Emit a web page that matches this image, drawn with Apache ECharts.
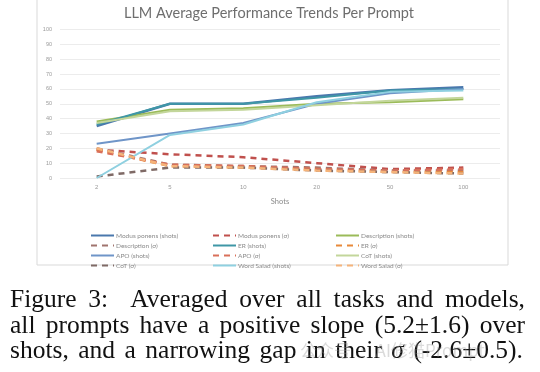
<!DOCTYPE html>
<html><head><meta charset="utf-8">
<script src="https://cdn.jsdelivr.net/npm/echarts@6/dist/echarts.min.js"></script>
<style>
html,body{margin:0;padding:0;background:#fff;width:540px;height:372px;overflow:hidden}
#chart{position:absolute;left:0;top:0;width:540px;height:372px}
.cap{position:absolute;left:10px;width:515px;font-family:"Liberation Serif","DejaVu Serif",serif;font-size:25.5px;line-height:24px;color:#111;text-align:justify;text-align-last:justify;white-space:normal}
#wm{position:absolute;left:300px;top:337px;font-family:"Noto Sans CJK SC",sans-serif;font-size:17px;color:rgba(150,150,150,0.35)}
</style></head>
<body>
<div id="chart"></div>
<div class="cap" style="top:287px">Figure 3:&nbsp; Averaged over all tasks and models,</div>
<div class="cap" style="top:313px">all prompts have a positive slope (5.2±1.6) over</div>
<div class="cap" style="top:338px;width:513px">shots, and a narrowing gap in their <i>σ</i> (-2.6±0.5).</div>
<div id="wm">公众号 · AI修猫Prompt</div>
<script>
var shots = ['2','5','10','20','50','100'];
var yTicks = [0,10,20,30,40,50,60,70,80,90,100];

var modusShots = [35, 50, 50, 55, 59, 61];
var modusSigma = [19, 16, 14, 10, 6, 7];
var descShots  = [38, 46, 47, 50, 51, 53];
var descSigma  = [20, 9, 8, 7, 5, 5];
var erShots    = [36, 50, 50, 54, 59, 60];
var erSigma    = [19, 8, 7, 6, 4, 4];
var apoShots   = [23, 30, 37, 50, 57, 60];
var apoSigma   = [18, 9, 8, 6, 5, 6];
var cotShots   = [37, 45, 46, 49, 52, 54];
var cotSigma   = [1, 7, 7, 5, 4, 3];
var wsShots    = [0, 29, 36, 51, 58, 59];
var wsSigma    = [20, 8, 7, 5, 4, 3];

function solid(name, data, color, w){
  return {name:name, type:'line', data:data, symbol:'none', smooth:false,
    lineStyle:{color:color, width:w||2}, itemStyle:{color:color}};
}
function dashed(name, data, color){
  return {name:name, type:'line', data:data, symbol:'none',
    lineStyle:{color:color, width:2.5, type:[6,5]}, itemStyle:{color:color}};
}
var series = [
  solid('Modus ponens (shots)', modusShots, '#4a78ad', 2.6),
  dashed('Modus ponens (σ)', modusSigma, '#c0504d'),
  solid('Description (shots)', descShots, '#9bbb59'),
  dashed('Description (σ)', descSigma, '#a0746e'),
  solid('ER (shots)', erShots, '#3f97a6'),
  dashed('ER (σ)', erSigma, '#e8893a'),
  solid('APO (shots)', apoShots, '#6f95c8'),
  dashed('APO (σ)', apoSigma, '#d9705a'),
  solid('CoT (shots)', cotShots, '#c3d69b'),
  dashed('CoT (σ)', cotSigma, '#7f6a66'),
  solid('Word Salad (shots)', wsShots, '#8fd0e0'),
  dashed('Word Salad (σ)', wsSigma, '#f5b37a')
];
function leg(left, names){
  return {left:left, top:227, orient:'vertical', itemGap:3, itemWidth:23, itemHeight:6,
    itemStyle:{opacity:0},
    textStyle:{fontSize:6.5, color:'#8a8a8a', fontFamily:'Lato', padding:[0,0,0,-3]},
    data:names, selectedMode:false};
}
var chart = echarts.init(document.getElementById('chart'));
chart.setOption({
  animation:false,
  backgroundColor:'#fff',
  title:{text:'LLM Average Performance Trends Per Prompt', left:264, textAlign:'center', top:1,
    textStyle:{fontSize:14.5, fontWeight:'normal', color:'#6e6e6e', fontFamily:'Lato'}},
  graphic:[{type:'rect', shape:{x:37, y:-2, width:471, height:267},
    style:{fill:'none', stroke:'#d9d9d9', lineWidth:1}, silent:true}],
  grid:{left:60, right:40, top:29.5, height:148.5},
  xAxis:{type:'category', data:shots, boundaryGap:true,
    axisLine:{show:false}, axisTick:{show:false},
    axisLabel:{fontSize:6, color:'#9a9a9a', margin:6},
    name:'Shots', nameLocation:'middle', nameGap:20,
    nameTextStyle:{fontSize:7.5, color:'#8a8a8a', fontFamily:'Lato'}},
  yAxis:{type:'value', min:0, max:100, interval:10,
    axisLine:{show:false}, axisTick:{show:false},
    axisLabel:{fontSize:5.5, color:'#9a9a9a', margin:8,
      formatter:function(v){return yTicks.indexOf(v)>=0? String(v):'';}},
    splitLine:{lineStyle:{color:'#ececec', width:1}}},
  legend:[
    leg(85, ['Modus ponens (shots)','Description (σ)','APO (shots)','CoT (σ)']),
    leg(207, ['Modus ponens (σ)','ER (shots)','APO (σ)','Word Salad (shots)']),
    leg(330, ['Description (shots)','ER (σ)','CoT (shots)','Word Salad (σ)'])
  ],
  series:series
});
</script>
</body></html>
